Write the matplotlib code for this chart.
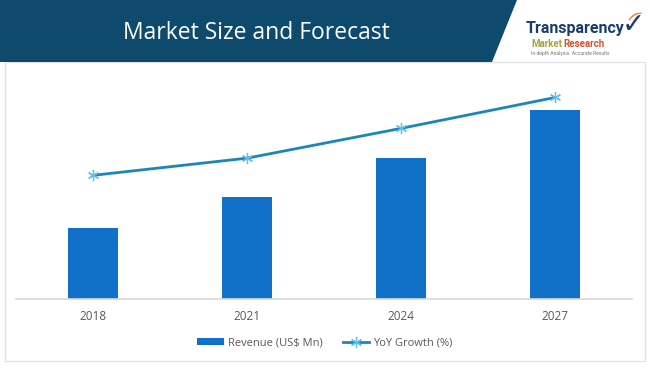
import numpy as np
import matplotlib.pyplot as plt
from matplotlib.patches import Polygon, Rectangle
from matplotlib.lines import Line2D

# values (arbitrary units, no y axis shown)
years = ['2018', '2021', '2024', '2027']
revenue = [3.1, 4.45, 6.15, 8.25]
yoy_growth = [5.4, 6.15, 7.45, 8.8]

W, H = 650, 368
fig = plt.figure(figsize=(W / 100, H / 100), dpi=100)
fig.patch.set_facecolor('white')

def fx(px):
    return px / W

def fy(py):
    return 1 - py / H

# faint frame round the chart
fig.patches.append(Rectangle((fx(5), fy(361)), fx(640), 299 / H, transform=fig.transFigure,
                             fill=False, edgecolor='#e3e3e3', linewidth=1.0, zorder=0))

# header band with slanted right edge
band = Polygon([(0, fy(0)), (fx(517), fy(0)), (fx(492), fy(62)), (0, fy(62))],
               closed=True, transform=fig.transFigure, facecolor='#0d4a6b', edgecolor='none')
fig.patches.append(band)
fig.text(fx(256), fy(33), 'Market Size and Forecast', color='white', fontsize=16.5,
         family='Open Sans', ha='center', va='center')

# logo text
fig.text(fx(526), fy(29), 'Transparency', color='#1d3b6d', fontsize=11.5, family='Roboto',
         fontweight='bold', ha='left', va='center')
fig.text(fx(531), fy(44), 'Market', color='#a5a23a', fontsize=7, family='Roboto',
         fontweight='bold', ha='left', va='center')
fig.text(fx(563), fy(44), 'Research', color='#d9502a', fontsize=7, family='Roboto',
         fontweight='bold', ha='left', va='center')
fig.text(fx(531), fy(54), 'In-depth Analysis. Accurate Results', color='#777777', fontsize=3.6,
         family='Roboto', ha='left', va='center')
fig.text(fx(633), fy(25), '\u2713', color='#1d3b6d', fontsize=20, family='DejaVu Sans',
         fontweight='bold', ha='center', va='center')
fig.text(fx(633), fy(16), '(', color='#e07a2c', fontsize=11, family='DejaVu Sans',
         ha='center', va='center', rotation=-60)

# main axes: baseline at y=299, plot spans x 16..632
ax = fig.add_axes([fx(16), fy(299), fx(616), 229 / H])
x = np.arange(len(years))
ax.bar(x, revenue, width=0.32, color='#1170c8', zorder=2)
ax.set_xlim(-0.5, 3.5)
ax.set_ylim(0, 10)
for s in ['top', 'right', 'left']:
    ax.spines[s].set_visible(False)
ax.spines['bottom'].set_color('#d9d9d9')
ax.spines['bottom'].set_linewidth(1.2)
ax.set_yticks([])
ax.set_xticks(x)
ax.set_xticklabels(years, fontsize=8.5, color='#595959', family='Open Sans')
ax.tick_params(axis='x', length=0, pad=8)
ax.patch.set_alpha(0)

ax2 = ax.twinx()
ax2.set_ylim(0, 10)
ax2.plot(x, yoy_growth, color='#1b87b6', linewidth=2.0, marker=(6, 2, 0),
         markersize=8, markeredgecolor='#62bde8', markeredgewidth=0.9, zorder=3)
ax2.axis('off')

handles = [
    Rectangle((0, 0), 1, 1, facecolor='#1170c8', edgecolor='none'),
    Line2D([], [], color='#1b87b6', linewidth=2.0, marker=(6, 2, 0), markersize=8,
           markeredgecolor='#62bde8', markeredgewidth=0.9),
]
fig.legend(handles, ['Revenue (US$ Mn)', 'YoY Growth (%)'], loc='center',
           bbox_to_anchor=(fx(325), fy(343)), ncol=2, frameon=False,
           prop={'family': 'Open Sans', 'size': 8}, labelcolor='#595959',
           handlelength=2.4, handleheight=0.5, handletextpad=0.35, columnspacing=1.8)

fig.savefig('out.png', dpi=100)
